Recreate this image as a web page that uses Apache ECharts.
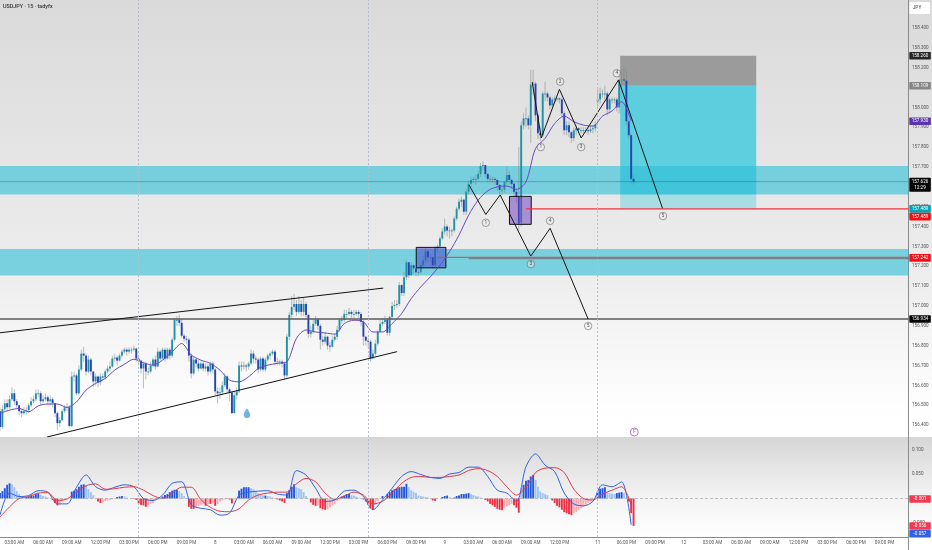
<!DOCTYPE html>
<html><head><meta charset="utf-8">
<style>html,body{margin:0;padding:0;background:#fff}#c{width:932px;height:550px;filter:blur(.3px)}</style>
<script src="https://cdn.jsdelivr.net/npm/echarts@6/dist/echarts.min.js"></script>
</head><body><div id="c"></div>
<script>
const closes=[156.39,156.48,156.51,156.49,156.53,156.56,156.52,156.50,156.47,156.46,
156.47,156.475,156.50,156.52,156.53,156.56,156.56,156.52,156.53,156.54,
156.52,156.53,156.51,156.46,156.41,156.425,156.47,156.49,156.49,156.395,
156.645,156.65,156.56,156.68,156.76,156.75,156.67,156.73,156.67,156.62,
156.645,156.615,156.645,156.64,156.67,156.685,156.695,156.735,156.74,156.725,
156.75,156.77,156.78,156.77,156.78,156.78,156.785,156.735,156.725,156.685,
156.71,156.67,156.67,156.70,156.73,156.695,156.77,156.735,156.78,156.735,
156.78,156.75,156.83,156.93,156.93,156.915,156.85,156.835,156.83,156.75,
156.66,156.73,156.71,156.685,156.71,156.685,156.695,156.67,156.71,156.68,
156.57,156.56,156.565,156.60,156.645,156.58,156.565,156.46,156.55,156.57,
156.70,156.695,156.70,156.695,156.71,156.76,156.735,156.73,156.68,156.735,
156.68,156.73,156.75,156.76,156.77,156.72,156.72,156.72,156.71,156.65,
156.845,156.955,156.995,157.01,156.97,157.01,156.97,157.01,156.955,156.86,
156.87,156.91,156.93,156.90,156.83,156.82,156.845,156.80,156.795,156.83,
156.845,156.88,156.93,156.93,156.96,156.96,156.97,156.96,156.96,156.97,
156.96,156.92,156.845,156.825,156.82,156.735,156.76,156.81,156.87,156.91,
156.92,156.93,156.865,156.945,157.00,157.005,157.01,157.105,157.065,157.145,
157.22,157.155,157.205,157.19,157.17,157.17,157.205,157.23,157.275,157.245,
157.245,157.205,157.29,157.30,157.34,157.375,157.40,157.38,157.38,157.38,
157.44,157.49,157.525,157.535,157.475,157.575,157.615,157.635,157.64,157.64,
157.665,157.705,157.71,157.665,157.64,157.64,157.64,157.635,157.61,157.585,
157.585,157.625,157.66,157.635,157.615,157.575,157.55,157.415,157.91,157.945,
157.945,157.91,158.115,158.12,157.96,157.87,157.86,158.07,158.07,158.05,
158.01,158.04,158.045,158.045,158.04,157.97,157.885,157.91,157.875,157.845,
157.885,157.895,157.885,157.885,157.885,157.885,157.88,157.89,157.895,157.915,
158.04,158.07,158.07,158.07,157.99,158.04,158.04,158.04,158.00,158.14,
158.14,158.135,157.93,157.86,157.64,157.626];
const opens=[156.47,156.39,156.48,156.51,156.49,156.53,156.56,156.52,156.50,156.47,
156.46,156.47,156.475,156.50,156.52,156.53,156.56,156.56,156.52,156.53,
156.54,156.52,156.53,156.51,156.46,156.41,156.425,156.47,156.49,156.49,
156.395,156.645,156.65,156.56,156.68,156.76,156.75,156.67,156.73,156.67,
156.62,156.645,156.615,156.645,156.64,156.67,156.685,156.695,156.735,156.74,
156.725,156.75,156.77,156.78,156.77,156.78,156.78,156.785,156.735,156.725,
156.685,156.71,156.67,156.67,156.70,156.73,156.695,156.77,156.735,156.78,
156.735,156.78,156.75,156.83,156.93,156.93,156.915,156.85,156.835,156.83,
156.75,156.66,156.73,156.71,156.685,156.71,156.685,156.695,156.67,156.71,
156.68,156.57,156.56,156.565,156.60,156.645,156.58,156.565,156.46,156.55,
156.57,156.70,156.695,156.70,156.695,156.71,156.76,156.735,156.73,156.68,
156.735,156.68,156.73,156.75,156.76,156.77,156.72,156.72,156.72,156.71,
156.65,156.845,156.955,156.995,157.01,156.97,157.01,156.97,157.01,156.955,
156.86,156.87,156.91,156.93,156.90,156.83,156.82,156.845,156.80,156.795,
156.83,156.845,156.88,156.93,156.93,156.96,156.96,156.97,156.96,156.96,
156.97,156.96,156.92,156.845,156.825,156.82,156.735,156.76,156.81,156.87,
156.91,156.92,156.93,156.865,156.945,157.00,157.005,157.01,157.105,157.065,
157.145,157.22,157.155,157.205,157.19,157.17,157.17,157.205,157.23,157.275,
157.245,157.245,157.205,157.29,157.30,157.34,157.375,157.40,157.38,157.38,
157.38,157.44,157.49,157.525,157.535,157.475,157.575,157.615,157.635,157.64,
157.64,157.665,157.705,157.71,157.665,157.64,157.64,157.64,157.635,157.61,
157.585,157.585,157.625,157.66,157.635,157.615,157.575,157.55,157.42,157.91,
157.945,157.945,157.91,158.115,158.12,157.96,157.87,157.86,158.07,158.07,
158.05,158.01,158.04,158.045,158.045,158.04,157.97,157.885,157.91,157.875,
157.845,157.885,157.895,157.885,157.885,157.885,157.885,157.88,157.89,157.895,
158.03,158.04,158.07,158.07,158.07,157.99,158.04,158.04,158.04,158.00,
158.14,158.14,158.135,157.93,157.86,157.64];
const highs=[156.49,156.50,156.53,156.53,156.55,156.59,156.58,156.53,156.50,156.48,
156.49,156.49,156.51,156.54,156.55,156.58,156.58,156.57,156.55,156.56,
156.55,156.55,156.54,156.51,156.47,156.44,156.48,156.50,156.51,156.50,
156.67,156.67,156.66,156.70,156.78,156.795,156.76,156.75,156.74,156.67,
156.66,156.65,156.66,156.66,156.68,156.70,156.72,156.75,156.76,156.75,
156.76,156.78,156.79,156.79,156.79,156.79,156.80,156.79,156.75,156.73,
156.72,156.72,156.69,156.72,156.74,156.75,156.79,156.78,156.79,156.79,
156.79,156.79,156.84,156.94,156.95,156.955,156.93,156.86,156.85,156.84,
156.76,156.75,156.74,156.73,156.72,156.72,156.71,156.71,156.72,156.72,
156.69,156.59,156.59,156.62,156.66,156.65,156.59,156.57,156.57,156.59,
156.72,156.72,156.72,156.71,156.72,156.78,156.775,156.75,156.74,156.745,
156.745,156.74,156.76,156.77,156.78,156.78,156.74,156.73,156.73,156.72,
156.86,156.97,157.05,157.06,157.03,157.05,157.03,157.04,157.02,156.96,
156.90,156.93,156.95,156.94,156.91,156.85,156.87,156.85,156.82,156.85,
156.86,156.90,156.94,156.95,156.98,156.98,156.99,156.98,156.98,156.98,
156.98,156.97,156.93,156.85,156.84,156.83,156.78,156.83,156.88,156.93,
156.94,156.95,156.94,156.95,157.02,157.03,157.03,157.12,157.11,157.17,
157.23,157.22,157.22,157.21,157.19,157.19,157.22,157.25,157.29,157.28,
157.26,157.25,157.30,157.31,157.35,157.39,157.44,157.41,157.40,157.39,
157.45,157.50,157.54,157.55,157.54,157.59,157.63,157.65,157.65,157.66,
157.68,157.72,157.73,157.71,157.67,157.66,157.65,157.65,157.635,157.61,
157.60,157.63,157.70,157.68,157.64,157.62,157.59,157.80,157.93,157.97,
158.00,157.96,158.19,158.19,158.13,157.97,157.90,158.08,158.13,158.08,
158.06,158.05,158.06,158.05,158.05,158.05,157.98,157.93,157.93,157.88,
157.90,157.91,157.90,157.90,157.90,157.90,157.90,157.91,157.91,157.93,
158.09,158.10,158.09,158.11,158.08,158.05,158.05,158.05,158.05,158.17,
158.19,158.20,158.19,157.94,157.87,157.66];
const lows=[156.37,156.38,156.47,156.47,156.48,156.52,156.50,156.48,156.45,156.44,
156.45,156.45,156.46,156.49,156.51,156.52,156.54,156.50,156.51,156.52,
156.50,156.50,156.49,156.44,156.375,156.39,156.42,156.46,156.47,156.39,
156.39,156.62,156.55,156.55,156.67,156.72,156.65,156.66,156.65,156.59,
156.60,156.59,156.60,156.62,156.63,156.66,156.67,156.69,156.72,156.70,
156.72,156.74,156.76,156.75,156.76,156.76,156.77,156.72,156.70,156.66,
156.585,156.63,156.65,156.66,156.69,156.68,156.69,156.72,156.73,156.72,
156.73,156.73,156.74,156.82,156.90,156.90,156.84,156.82,156.81,156.72,
156.635,156.65,156.69,156.67,156.68,156.67,156.67,156.65,156.66,156.66,
156.55,156.51,156.53,156.55,156.59,156.56,156.52,156.455,156.46,156.53,
156.56,156.67,156.68,156.67,156.68,156.70,156.71,156.71,156.66,156.67,
156.67,156.67,156.72,156.73,156.75,156.70,156.70,156.70,156.69,156.63,
156.64,156.83,156.94,156.98,156.95,156.96,156.95,156.95,156.94,156.84,
156.84,156.86,156.90,156.88,156.78,156.80,156.81,156.78,156.77,156.79,
156.82,156.83,156.87,156.91,156.92,156.94,156.95,156.94,156.94,156.95,
156.94,156.90,156.80,156.80,156.79,156.72,156.74,156.75,156.80,156.87,
156.90,156.91,156.85,156.85,156.93,156.98,156.99,157.00,157.05,157.05,
157.13,157.14,157.15,157.16,157.15,157.15,157.16,157.19,157.22,157.22,
157.22,157.19,157.20,157.27,157.29,157.33,157.36,157.35,157.34,157.35,
157.37,157.43,157.48,157.50,157.46,157.46,157.56,157.60,157.62,157.61,
157.63,157.65,157.68,157.65,157.62,157.62,157.62,157.61,157.58,157.56,
157.56,157.57,157.61,157.61,157.59,157.55,157.52,157.38,157.40,157.89,
157.90,157.89,157.82,158.06,157.93,157.84,157.83,157.85,158.03,158.03,
157.99,158.00,158.02,158.03,158.02,157.95,157.86,157.86,157.85,157.82,
157.83,157.86,157.87,157.87,157.87,157.87,157.86,157.87,157.87,157.88,
158.00,158.02,158.05,158.04,157.96,157.97,158.02,158.02,157.98,157.97,
158.09,158.11,157.91,157.84,157.62,157.61];
// moving average, one reading every 4th bar
const maEvery4=[156.459,156.475,156.484,156.467,156.497,156.506,156.506,156.489,156.517,156.576,
156.61,156.635,156.677,156.706,156.732,156.714,156.702,156.727,156.769,156.811,
156.753,156.727,156.711,156.677,156.627,156.618,156.643,156.685,156.702,156.711,
156.719,156.837,156.879,156.869,156.864,156.858,156.911,156.928,156.92,156.869,
156.869,156.911,156.962,157.037,157.096,157.147,157.205,157.273,157.357,157.457,
157.533,157.58,157.60,157.604,157.587,157.625,157.793,157.844,157.919,157.956,
157.928,157.911,157.906,157.956,157.982,158.029,157.931];
// MACD lines, one reading every 4th bar
const macdEvery4=[-.034,.011,.004,.006,.016,.013,-.011,-.011,.023,.048,.024,.017,.023,.028,.024,0,-.004,.007,.031,.034,
-.013,-.020,-.023,-.034,-.030,.007,.013,.015,.016,.009,.007,.057,.048,.021,
-.006,-.003,.015,.017,.004,-.023,-.003,.021,.045,.055,.049,.043,.041,.050,.053,.064,.064,.045,.017,.011,-.006,.065,.091,.068,.055,.011,-.011,-.015,-.006,.028,.024,.034,-.054];
const signalEvery4=[-.038,-.017,0,.004,.011,.012,-.004,-.001,.013,.026,.030,.019,.020,.023,.024,.017,.006,0,.011,.023,
.023,-.002,-.018,-.026,-.027,-.021,-.003,.007,.011,.013,.013,.030,.041,.034,
.011,-.002,.005,.013,.007,-.011,-.006,.011,.031,.043,.045,.043,.043,.045,.048,.057,.061,.057,.045,.024,.007,.023,.053,.062,.063,.053,.019,0,-.003,.009,.017,.024,-.013];
const macdHist=[.011,.015,.021,.028,.031,.029,.023,.015,.009,.005,
.002,.003,.004,.006,.006,.009,.010,.008,.005,.004,
.002,0,-.003,-.009,-.014,-.013,-.006,-.003,-.002,-.001,
.014,.016,.019,.024,.028,.029,.026,.019,.013,.007,
-.001,-.006,-.009,-.008,-.005,-.004,-.003,-.002,.001,.003,
.004,.005,.004,.002,0,0,-.001,-.003,-.010,-.013,
-.014,-.017,-.014,-.011,-.009,-.004,-.002,.001,.004,.007,
.009,.013,.016,.018,.018,.015,.011,.005,-.001,-.017,
-.021,-.021,-.018,-.015,-.013,-.011,-.015,-.011,-.011,-.010,
-.015,-.011,-.006,-.004,-.002,-.001,-.002,-.010,-.002,0,
.016,.020,.023,.023,.023,.021,.019,.014,.011,.008,
.006,.006,.005,.004,.002,-.001,-.002,-.004,-.006,-.009,
.011,.017,.024,.029,.023,.021,.019,.013,.005,-.001,
-.008,-.013,-.015,-.014,-.020,-.022,-.023,-.022,-.018,-.014,
-.011,-.005,-.002,.004,.006,.009,.009,.007,.006,.004,
.002,0,-.002,-.006,-.013,-.020,-.023,-.013,-.005,-.001,
.005,0,.009,.013,.017,.019,.021,.023,.024,.024,
.030,.023,.017,.014,.011,.006,.005,.004,.003,.002,
-.001,-.004,-.005,-.001,0,.003,.005,.006,.003,0,
.002,.005,.006,.009,.009,.010,.011,.009,.007,.005,
.004,.002,0,-.003,-.006,-.011,-.014,-.017,-.021,-.023,
-.024,-.019,-.016,-.014,-.011,-.014,-.019,-.029,.021,.028,
.036,.038,.045,.048,.038,.024,.014,.011,.009,.007,
0,-.004,-.009,-.015,-.018,-.023,-.028,-.030,-.032,-.034,
-.030,-.028,-.023,-.020,-.017,-.013,-.009,-.006,-.003,-.001,
.014,.020,.021,.023,.013,.011,.010,.009,.011,.012,
.013,.011,.002,-.006,-.030,-.056];

const xTickBars=[6,18,30,42,54,66,78,90,102,114,126,138,150,162,174,186,198,210,222,234,250,262,274,286,298,310,322,334,346,358,370];
const xTickLabels=['03:00 AM','06:00 AM','09:00 AM','12:00 PM','03:00 PM','06:00 PM','09:00 PM','8','03:00 AM','06:00 AM','09:00 AM','12:00 PM','03:00 PM','06:00 PM','09:00 PM','9','03:00 AM','06:00 AM','09:00 AM','12:00 PM','11','06:00 PM','09:00 PM','12','03:00 AM','06:00 AM','09:00 AM','12:00 PM','03:00 PM','06:00 PM','09:00 PM'];
const priceTicks=[156.4,156.5,156.6,156.7,156.8,156.9,157,157.1,157.2,157.3,157.4,157.5,157.6,157.7,157.8,157.9,158,158.1,158.2,158.3,158.4];
const macdTicks=[.1,.05,-.05];
const sessionBars=[58,154,250];
const lastBar=380;

// [fromBar,toBar,topPrice,bottomPrice]
const zones=[[0,lastBar,157.705,157.561],[0,lastBar,157.287,157.153]];
const stopBox=[[259.4,316.3,158.26,158.109]];
const targetBox=[[259.4,316.3,158.109,157.561]];
const targetTail=[[259.4,316.3,157.561,157.489]];
const blueBox=[[174.1,186.5,157.295,157.192]];
const violetBox=[[213.1,222.2,157.552,157.411]];

const wedgeUpper=[[0,156.865],[160.3,157.09]];
const wedgeLower=[[19.7,156.34],[166.1,156.77]];
const waveA=[[196.2,157.609],[203.2,157.461],[209.2,157.559],[222,157.251],[230.1,157.391],[246,156.934]];
const waveB=[[222.6,158.128],[226.4,157.846],[234,158.091],[243.1,157.846],[258.7,158.138],[277.1,157.492]];
const waveMarks=[[203.2,157.419,'1'],[222,157.211,'3'],[230.1,157.429,'4'],[246,156.899,'5'],
[226.2,157.80,'1'],[234.3,158.13,'2'],[243.1,157.80,'3'],[258,158.172,'4'],[277.3,157.453,'5']];
const lastPriceLine=[[0,157.626],[lastBar,157.626]];
const levelBlack=[[0,156.934],[lastBar,156.934]];
const levelRed=[[220,157.489],[lastBar,157.489]];
const levelRed2=[[182.8,157.245],[lastBar,157.245]];
const levelGray2=[[196,157.238],[lastBar,157.238]];
const dropMark=[[103.3,156.46]];
const eventMark=[[265.3,156.365]];

const mainTagPrices=[158.26,158.109,157.93,157.626,157.489,157.45,157.242,156.934];
const mainTagTexts=['158.260','158.109','157.930','157.626\n12:29','157.489','157.489','157.242','156.934'];
const mainTagColors=['#262626','#858585','#5b35b0','#050505','#00a5b5','#f40f14','#f40f14','#050505'];
const macdTagValues=[-.001,-.056,-.072];
const macdTagTexts=['-0.001','-0.056','-0.057'];
const macdTagColors=['#ef3a4f','#ef3a4f','#2f62e8'];

const chart=echarts.init(document.getElementById('c'),null,{renderer:'canvas',width:932,height:550});
const candleData=closes.map((c,i)=>[i,opens[i],highs[i],lows[i],c]);
const every4=a=>a.map((v,i)=>[i*4,v]);
const histData=macdHist.map((v,i)=>{
  const prev=i?macdHist[i-1]:0,grow=Math.abs(v)>=Math.abs(prev);
  return {value:[i,v],itemStyle:{color:v>=0?(grow?'#2457e0':'#9cc4f7'):(grow?'#ee2f43':'#fbaab2')}};
});
function boxSeries(name,data,fill,stroke,grid){
  return {name,type:'custom',xAxisIndex:grid||0,yAxisIndex:grid||0,silent:true,data,
    encode:{x:[0,1],y:[2,3]},
    renderItem(p,api){
      const a=api.coord([api.value(0),api.value(2)]),b=api.coord([api.value(1),api.value(3)]);
      return {type:'rect',shape:{x:a[0],y:a[1],width:b[0]-a[0],height:b[1]-a[1]},
        style:{fill,stroke:stroke||null,lineWidth:stroke?1:0}};
    }};
}
function lineSeries(name,data,color,width,grid,smooth){
  return {name,type:'line',xAxisIndex:grid||0,yAxisIndex:grid||0,data,symbol:'none',silent:true,
    smooth:smooth||false,lineStyle:{color,width}};
}
function tagSeries(name,prices,texts,colors,grid){
  return {name,type:'custom',xAxisIndex:grid,yAxisIndex:grid,silent:true,z:20,clip:false,
    data:prices.map((p,i)=>[lastBar,p,i]),encode:{x:0,y:1},
    renderItem(pa,api){
      const c=api.coord([api.value(0),api.value(1)]),i=api.value(2),t=texts[i],two=t.indexOf('\n')>=0,h=two?14:7.6;
      return {type:'group',children:[
        {type:'rect',shape:{x:c[0]+.8,y:c[1]-(two?3.8:h/2),width:21.5,height:h,r:.8},style:{fill:colors[i]}},
        {type:'text',style:{text:t,x:c[0]+11.5,y:c[1]-(two?3.8:h/2)+h/2,align:'center',verticalAlign:'middle',
          fill:'#fff',fontSize:4.6,lineHeight:6.4,fontFamily:'Roboto'}}
      ]};
    }};
}
const candleSeries={name:'USDJPY',type:'custom',data:candleData,encode:{x:0,y:[1,2,3,4]},silent:true,
  renderItem(p,api){
    const i=api.value(0),o=api.value(1),h=api.value(2),l=api.value(3),c=api.value(4);
    const x=api.coord([i,o])[0],yo=api.coord([i,o])[1],yc=api.coord([i,c])[1],yh=api.coord([i,h])[1],yl=api.coord([i,l])[1];
    const up=c>=o,top=Math.min(yo,yc),ht=Math.max(Math.abs(yo-yc),.8);
    return {type:'group',children:[
      {type:'line',shape:{x1:x,y1:yh,x2:x,y2:yl},style:{stroke:'rgba(125,135,135,.75)',lineWidth:.7}},
      {type:'rect',shape:{x:x-.95,y:top,width:1.9,height:ht},style:{fill:up?'#1f93a6':'#2444b4'}}
    ]};
  }};
const sepLine={symbol:'none',silent:true,label:{show:false},animation:false,
  lineStyle:{color:'#b6bdcc',type:[2,2],width:1}};
const axisLineStyle={show:true,onZero:false,lineStyle:{color:'#8a8a8a',width:1}};
const option={
  animation:false,
  backgroundColor:new echarts.graphic.LinearGradient(0,0,0,1,[
    {offset:0,color:'#dadada'},{offset:.5,color:'#ededed'},{offset:.74,color:'#fefefe'},{offset:.7945,color:'#ffffff'},
    {offset:.7946,color:'#d6d6d6'},{offset:.9,color:'#f2f2f2'},{offset:.976,color:'#ffffff'},{offset:1,color:'#ffffff'}]),
  title:{text:'USDJPY · 15 · tadyfx',left:3,top:4.5,padding:0,textStyle:{fontSize:5.4,fontWeight:500,color:'#333',fontFamily:'Roboto'}},
  grid:[{left:0,right:23.5,top:0,height:437},{left:0,right:23.5,top:438,height:99}],
  xAxis:[
    {type:'value',gridIndex:0,min:0,max:lastBar,show:false},
    {type:'value',gridIndex:1,min:0,max:lastBar,position:'bottom',splitLine:{show:false},axisTick:{show:false},
     axisLine:axisLineStyle,
     axisLabel:{customValues:xTickBars,formatter:v=>xTickLabels[xTickBars.indexOf(v)],fontSize:4.6,color:'#555',margin:3.5,fontFamily:'Roboto',hideOverlap:false}}
  ],
  yAxis:[
    {type:'value',gridIndex:0,min:156.34,max:158.541,position:'right',splitLine:{show:false},axisTick:{show:false},
     axisLine:axisLineStyle,
     axisLabel:{customValues:priceTicks,formatter:v=>v.toFixed(3),fontSize:4.6,color:'#555',margin:3.5,fontFamily:'Roboto',showMinLabel:true,showMaxLabel:true}},
    {type:'value',gridIndex:1,min:-.0786,max:.1235,position:'right',splitLine:{show:false},axisTick:{show:false},
     axisLine:axisLineStyle,
     axisLabel:{customValues:macdTicks,formatter:v=>v.toFixed(3),fontSize:4.6,color:'#555',margin:3.5,fontFamily:'Roboto'}}
  ],
  series:[
    boxSeries('stop',stopBox,'#9b9b9b'),
    boxSeries('target',targetBox,'rgba(36,198,220,.7)'),
    boxSeries('targetTail',targetTail,'rgba(36,198,220,.32)'),
    boxSeries('zones',zones,'rgba(45,190,215,.6)'),
    lineSeries('last',lastPriceLine,'rgba(20,95,110,.55)',.7),
    lineSeries('level156',levelBlack,'#5a5a5a',1.6),
    lineSeries('level157red',levelRed2,'#ec3b45',1),
    lineSeries('level157gray',levelGray2,'#757575',1),
    lineSeries('level157b',levelRed,'#f0323c',1.2),
    Object.assign(lineSeries('sessions',[[0,157]],'transparent',0),{markLine:Object.assign({},sepLine,{data:sessionBars.map(b=>({xAxis:b}))})}),
    candleSeries,
    lineSeries('ma',every4(maEvery4),'#6a48c2',1,0,.3),
    boxSeries('blueBox',blueBox,'rgba(70,60,200,.5)','#101018'),
    boxSeries('violetBox',violetBox,'rgba(115,70,190,.55)','#101018'),
    lineSeries('wedgeUpper',wedgeUpper,'#111',1),
    lineSeries('wedgeLower',wedgeLower,'#111',1),
    lineSeries('waveA',waveA,'#151515',1),
    lineSeries('waveB',waveB,'#151515',1),
    {name:'waveMarks',type:'scatter',data:waveMarks,symbol:'circle',symbolSize:7.5,silent:true,z:6,
     itemStyle:{color:'rgba(240,240,240,.6)',borderColor:'#444',borderWidth:.6},
     label:{show:true,position:'inside',formatter:p=>p.data[2],fontSize:4.8,color:'#222',fontFamily:'Roboto'}},
    {name:'drop',type:'scatter',data:dropMark,symbol:'path://M5 0C5 0 0 6.5 0 10a5 5 0 0 0 10 0C10 6.5 5 0 5 0z',symbolSize:[6.5,10],silent:true,itemStyle:{color:'#4aa0dd'}},
    {name:'event',type:'scatter',data:eventMark,symbol:'circle',symbolSize:8,silent:true,z:6,
     itemStyle:{color:'#fff',borderColor:'#9c27b0',borderWidth:.8},
     label:{show:true,position:'inside',formatter:'F',fontSize:5,color:'#9c27b0',fontFamily:'Roboto'}},
    tagSeries('mainTags',mainTagPrices,mainTagTexts,mainTagColors,0),
    Object.assign(lineSeries('zero',[[0,0]],'transparent',0,1),{markLine:{symbol:'none',silent:true,label:{show:false},
      lineStyle:{color:'#a8a8a8',type:[3,2],width:.7},data:[{yAxis:-.001}]}}),
    Object.assign(lineSeries('sessions2',[[0,0]],'transparent',0,1),{markLine:Object.assign({},sepLine,{data:sessionBars.map(b=>({xAxis:b}))})}),
    {name:'hist',type:'bar',xAxisIndex:1,yAxisIndex:1,data:histData,barWidth:1.9,silent:true},
    lineSeries('macd',every4(macdEvery4),'#2f62e0',1,1,.3),
    lineSeries('signal',every4(signalEvery4),'#e03a48',1,1,.3),
    tagSeries('macdTags',macdTagValues,macdTagTexts,macdTagColors,1)
  ],
  graphic:[
    {type:'line',z:0,shape:{x1:908.5,y1:0,x2:908.5,y2:550},style:{stroke:'#8a8a8a',lineWidth:1}},
    {type:'rect',z:5,shape:{x:909.5,y:2,width:20.5,height:12,r:1},style:{fill:'#fff'}},
    {type:'text',z:6,style:{text:'JPY',x:917,y:8,align:'center',verticalAlign:'middle',fill:'#444',fontSize:4.8,fontFamily:'Roboto'}}
  ]
};
chart.setOption(option);
</script></body></html>
